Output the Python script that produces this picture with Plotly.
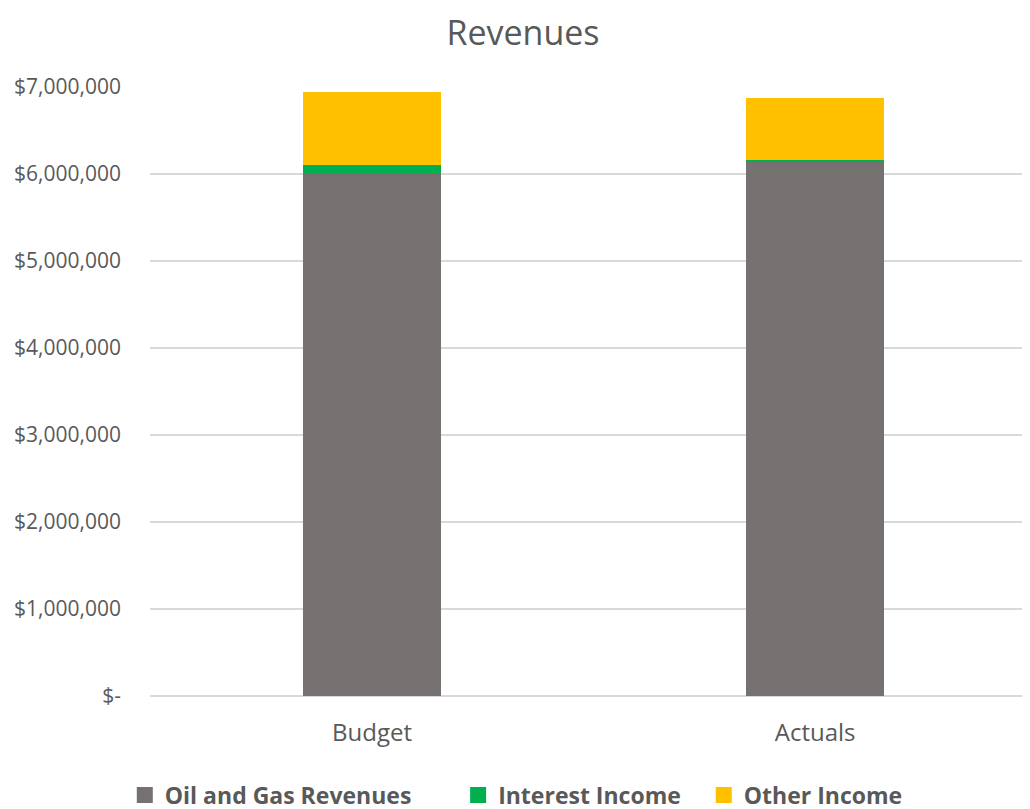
import plotly.graph_objects as go

categories = ["Budget", "Actuals"]
oil_gas = [6005000, 6138000]
interest = [97000, 20000]
other = [840000, 720000]

series_names = ["Oil and Gas Revenues", "Interest Income", "Other Income"]
series_colors = ["#767171", "#00B050", "#FFC000"]
legend_pad = [7, 3, 0]  # non-breaking spaces after each legend label (spacing only)

tick_vals = [0, 1000000, 2000000, 3000000, 4000000, 5000000, 6000000, 7000000]
tick_text = ["$-", "$1,000,000", "$2,000,000", "$3,000,000", "$4,000,000",
             "$5,000,000", "$6,000,000", "$7,000,000"]

fig = go.Figure()
for name, vals, col in zip(series_names, [oil_gas, interest, other], series_colors):
    fig.add_trace(go.Bar(name=name, x=categories, y=vals, showlegend=False,
                         marker=dict(color=col, line=dict(width=0)), width=0.31))
# legend entries with larger square swatches
for name, col, pad in zip(series_names, series_colors, legend_pad):
    fig.add_trace(go.Scatter(name=name + "\u00a0" * pad, x=[categories[0]], y=[None],
                             mode="markers",
                             marker=dict(symbol="square", size=16, color=col),
                             showlegend=True, hoverinfo="skip"))

fig.update_layout(
    barmode="stack",
    width=1030, height=809,
    paper_bgcolor="white", plot_bgcolor="white",
    font=dict(family="Open Sans", color="#595959"),
    title=dict(text="Revenues", x=0.5, xanchor="center", y=0.9691, yanchor="middle",
               font=dict(size=34, color="#595959")),
    margin=dict(l=142, r=0, t=79, b=121),
    xaxis=dict(range=[-0.501, 1.503], showgrid=False, showline=False,
               tickfont=dict(size=24, color="#595959"), ticks="", ticklabelstandoff=20),
    yaxis=dict(range=[0, 7000000], tickvals=tick_vals, ticktext=tick_text,
               showgrid=True, gridcolor="#D9D9D9", gridwidth=1.5, zeroline=True,
               zerolinecolor="#D9D9D9", zerolinewidth=1.5,
               tickfont=dict(size=21, color="#595959"), ticks="", ticklabelstandoff=28),
    legend=dict(orientation="h", x=0.4125, xanchor="center", y=-0.1626, yanchor="middle",
                font=dict(size=23, color="#595959", family="Open Sans", weight="bold"),
                itemwidth=30, traceorder="normal", itemsizing="trace"),
)

fig.write_html("out.html")
